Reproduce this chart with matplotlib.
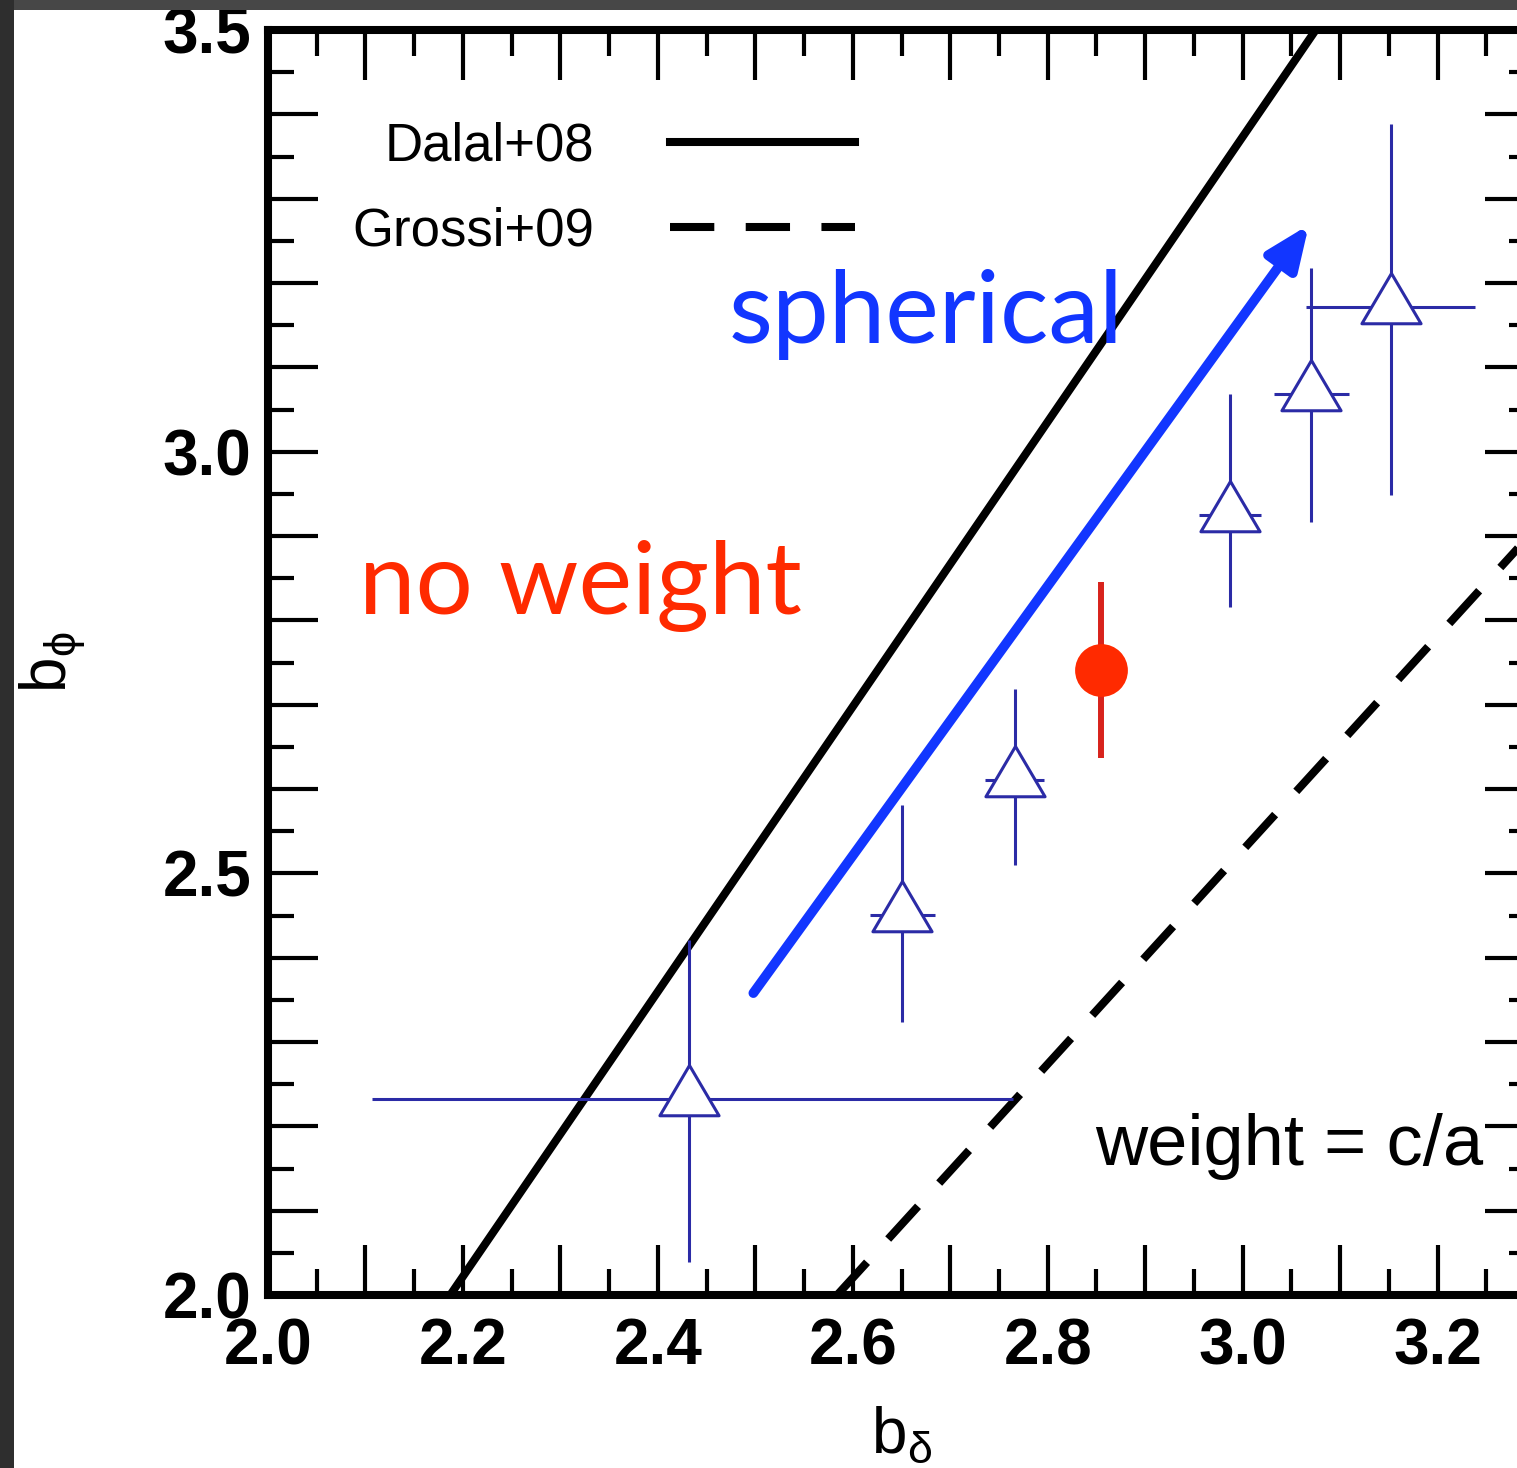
"""
b_phi vs b_delta comparison panel (slide screenshot recreation).
"""

import matplotlib
matplotlib.use("Agg")
import matplotlib.pyplot as plt
from matplotlib.patches import Rectangle
from matplotlib.path import Path
from matplotlib.ticker import MultipleLocator, FuncFormatter
from matplotlib.lines import Line2D
import numpy as np

# ── Data ──────────────────────────────────────────────────────────────────────
tri_x     = [2.432, 2.651, 2.766, 2.987, 3.070, 3.152]
tri_y     = [2.232, 2.451, 2.611, 2.925, 3.068, 3.171]
tri_xlo   = [0.325, 0.033, 0.030, 0.032, 0.038, 0.087]
tri_xhi   = [0.332, 0.033, 0.030, 0.032, 0.039, 0.086]
tri_ylo   = [0.193, 0.127, 0.101, 0.109, 0.151, 0.222]
tri_yhi   = [0.189, 0.130, 0.107, 0.143, 0.150, 0.217]

red_x     = [2.855]
red_y     = [2.741]
red_ylo   = [0.104]
red_yhi   = [0.105]

# reference relations: two points each (x, y)
dalal_x   = [2.187, 3.075]
dalal_y   = [2.0, 3.5]
grossi_x  = [2.584, 3.286]
grossi_y  = [2.0, 2.890]

arrow_from = (2.498, 2.358)
arrow_to   = (3.068, 3.269)

XLIM = (2.0, 3.3)
YLIM = (2.0, 3.5)

# ── Style ─────────────────────────────────────────────────────────────────────
NAVY   = "#2b2ba6"
RED    = "#ff2a00"
RED_EB = "#d8231c"
BLUE   = "#1236ff"
DARK   = "#474747"

plt.rcParams.update({
    "font.family":        "Liberation Sans",
    "mathtext.fontset":   "custom",
    "mathtext.rm":        "Liberation Sans",
    "mathtext.it":        "Liberation Sans",
    "mathtext.bf":        "Liberation Sans:bold",
})

W, H = 1517, 1468
fig = plt.figure(figsize=(W / 100, H / 100), dpi=100, facecolor="white")
ax = fig.add_axes([268 / W, (H - 1295) / H, 1267 / W, 1265 / H])

# open triangle, wider than tall, sitting slightly above the bar crossing
tri = Path([(-1, -0.55), (1, -0.55), (0, 1.15), (-1, -0.55)], closed=True)

ax.errorbar(tri_x, tri_y, xerr=[tri_xlo, tri_xhi], yerr=[tri_ylo, tri_yhi],
            fmt="none", ecolor=NAVY, elinewidth=2.2, capsize=0, zorder=3)
ax.plot(tri_x, tri_y, linestyle="none", marker=tri, markersize=49,
        markerfacecolor="white", markeredgecolor=NAVY, markeredgewidth=2.2,
        zorder=4)
ax.errorbar(red_x, red_y, yerr=[red_ylo, red_yhi], fmt="o", color=RED,
            ecolor=RED_EB, elinewidth=4.3, capsize=0, markersize=38,
            markeredgewidth=0, zorder=4)

# reference lines
ax.plot(dalal_x, dalal_y, color="black", lw=5.8, solid_capstyle="butt",
        zorder=2)
ax.plot(grossi_x, grossi_y, color="black", lw=5.8, dashes=(5.5, 3.9),
        zorder=2)

ax.set_xlim(*XLIM)
ax.set_ylim(*YLIM)

# ticks
for axis, step in ((ax.xaxis, 0.2), (ax.yaxis, 0.5)):
    axis.set_major_locator(MultipleLocator(0.1))
    axis.set_minor_locator(MultipleLocator(0.05))
    axis.set_major_formatter(FuncFormatter(
        lambda v, p, s=step: f"{v:.1f}" if abs(v / s - round(v / s)) < 1e-6 else ""))
ax.tick_params(which="both", direction="in", top=True, right=True, width=3)
ax.tick_params(which="major", length=36)
ax.tick_params(which="minor", length=19)
ax.tick_params(axis="x", pad=16)
ax.tick_params(axis="y", pad=12)
for lab in ax.get_xticklabels() + ax.get_yticklabels():
    lab.set_fontsize(46)
    lab.set_fontweight("bold")
for s in ax.spines.values():
    s.set_linewidth(5.8)

ax.set_xlabel(r"b$_{\delta}$", fontsize=46, labelpad=20)
ax.set_ylabel(r"b$_{\phi}$", fontsize=46, labelpad=54)

# legend
handles = [Line2D([], [], color="black", lw=5.8),
           Line2D([], [], color="black", lw=5.8, dashes=(5.5, 3.9))]
ax.legend(handles, ["Dalal+08", "Grossi+09"], loc="upper right",
          bbox_to_anchor=(0.4633, 0.928), frameon=False, fontsize=38,
          markerfirst=False, handlelength=3.5, handletextpad=1.45,
          labelspacing=0.68, borderpad=0, borderaxespad=0)

# annotations
ax.annotate("", xy=arrow_to, xytext=arrow_from,
            arrowprops=dict(arrowstyle="-|>,head_length=2.6,head_width=1.1",
                            color=BLUE, lw=7, shrinkA=0, shrinkB=0),
            zorder=5)
ax.text(2.473, 3.129, "spherical", color=BLUE, fontsize=73,
        family="Lato", ha="left", va="baseline", zorder=6)
ax.text(2.093, 2.807, "no weight", color=RED, fontsize=73,
        family="Lato", ha="left", va="baseline", zorder=6)
ax.text(2.849, 2.154, "weight = c/a", color="black", fontsize=52,
        ha="left", va="baseline", zorder=6)

# dark slide background peeking out at top/left
fig.add_artist(Rectangle((0, 1 - 10 / H), 1, 10 / H, transform=fig.transFigure,
                         facecolor=DARK, edgecolor="none", zorder=20))
fig.add_artist(Rectangle((0, 0), 14 / W, 1, transform=fig.transFigure,
                         facecolor="#2e2e2e", edgecolor="none", zorder=20))

fig.savefig("out.png", dpi=100, facecolor="white")
